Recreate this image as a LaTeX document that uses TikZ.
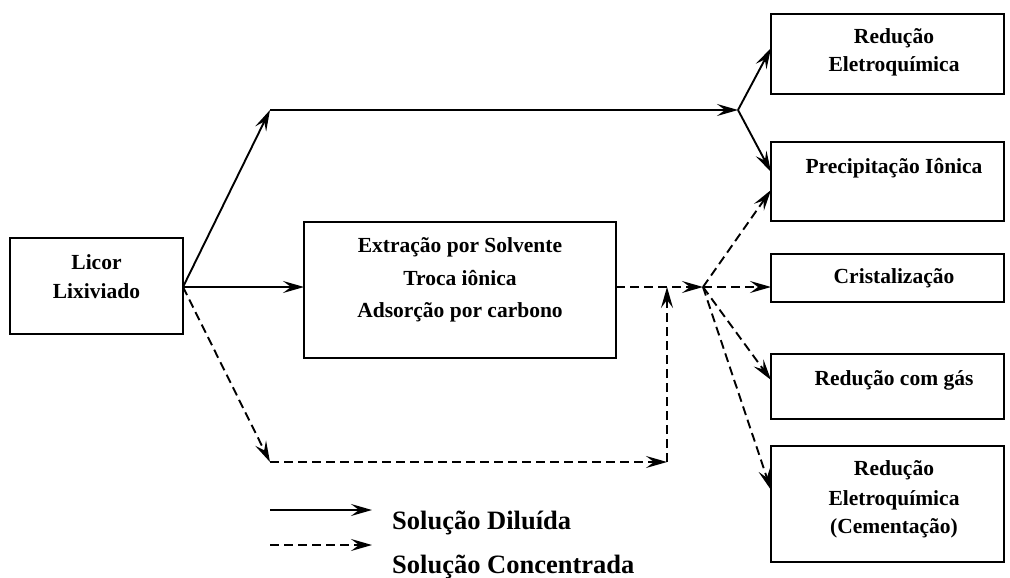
\documentclass[tikz,border=0pt]{standalone}
\usepackage{fontspec}
\setmainfont{Liberation Serif}
\usetikzlibrary{arrows.meta}
\begin{document}
\begin{tikzpicture}[x=1pt,y=-1pt,
  boxstyle/.style={draw,line width=2pt,rectangle,inner sep=0pt},
  txt/.style={anchor=base,inner sep=0pt,font=\bfseries\fontsize{21.5}{31}\selectfont},
  legtxt/.style={anchor=base west,inner sep=0pt,font=\bfseries\fontsize{26.5}{30}\selectfont},
  flow/.style={line width=1.9pt,-{Stealth[length=21pt,width=12pt,inset=8pt]}},
  conc/.style={dash pattern=on 9pt off 5pt}
]
\useasboundingbox (0,0) rectangle (1010,578);
% boxes
\node[boxstyle,minimum width=173pt,minimum height=96pt] (licor) at (96.5,286) {};
\node[boxstyle,minimum width=312pt,minimum height=136pt] (mid) at (460,290) {};
\node[boxstyle,minimum width=233pt,minimum height=80pt] (r1) at (887.5,54) {};
\node[boxstyle,minimum width=233pt,minimum height=79pt] (r2) at (887.5,181.5) {};
\node[boxstyle,minimum width=233pt,minimum height=48pt] (r3) at (887.5,278) {};
\node[boxstyle,minimum width=233pt,minimum height=65pt] (r4) at (887.5,386.5) {};
\node[boxstyle,minimum width=233pt,minimum height=116pt] (r5) at (887.5,504) {};
% texts
\node[txt] (t1) at (96.5,269) {Licor};
\node[txt] (t2) at (96.5,298) {Lixiviado};
\node[txt] (t3) at (460,252) {Extração por Solvente};
\node[txt] (t4) at (460,285) {Troca iônica};
\node[txt] (t5) at (460,317) {Adsorção por carbono};
\node[txt] (t6) at (894,44) {Redução};
\node[txt] (t7) at (894,72) {Eletroquímica};
\node[txt] (t8) at (894,173) {Precipitação Iônica};
\node[txt] (t9) at (894,283) {Cristalização};
\node[txt] (t10) at (894,385) {Redução com gás};
\node[txt] (t11) at (894,475) {Redução};
\node[txt] (t12) at (894,505) {Eletroquímica};
\node[txt] (t13) at (894,533) {(Cementação)};
% coordinates
\coordinate (lo) at (183,287);
\coordinate (c1) at (270,110);
\coordinate (c2) at (738,110);
\coordinate (c3) at (270,462);
\coordinate (c4) at (667,462);
\coordinate (c5) at (667,287);
\coordinate (mo) at (616,287);
\coordinate (c6) at (703,287);
\coordinate (r1w) at (771,48);
\coordinate (r2w) at (771,172);
\coordinate (r2d) at (771,190);
\coordinate (r3w) at (771,287);
\coordinate (r4w) at (771,380);
\coordinate (r5w) at (771,490);
\coordinate (mw) at (304,287);
% solid flows
\draw[flow] (lo) -- (c1);
\draw[flow] (c1) -- (c2);
\draw[flow] (c2) -- (r1w);
\draw[flow] (c2) -- (r2w);
\draw[flow] (lo) -- (mw);
% dashed flows
\draw[flow,conc] (lo) -- (c3);
\draw[flow,conc] (c3) -- (c4);
\draw[flow,conc] (c4) -- (c5);
\draw[flow,conc] (mo) -- (c6);
\draw[flow,conc] (c6) -- (r3w);
\draw[flow,conc] (c6) -- (r2d);
\draw[flow,conc] (c6) -- (r4w);
\draw[flow,conc] (c6) -- (r5w);
% legend
\coordinate (l1a) at (270,510);
\coordinate (l1b) at (372,510);
\coordinate (l2a) at (270,545);
\coordinate (l2b) at (372,545);
\draw[flow] (l1a) -- (l1b);
\draw[flow,conc] (l2a) -- (l2b);
\node[legtxt] (lg1) at (392,529) {Solução Diluída};
\node[legtxt] (lg2) at (392,573) {Solução Concentrada};
\end{tikzpicture}
\end{document}
